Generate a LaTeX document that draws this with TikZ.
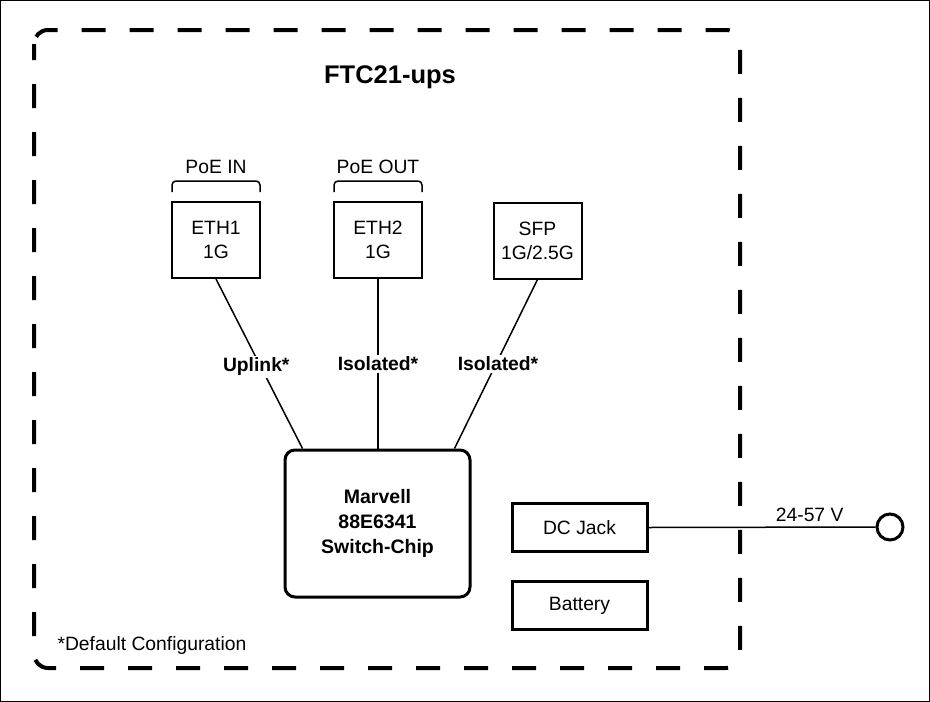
\documentclass[tikz,border=0pt]{standalone}
\usepackage{fontspec}
\setmainfont{Liberation Sans}
\usetikzlibrary{calc}

\begin{document}
\begin{tikzpicture}[x=1pt,y=-1pt,
  txt/.style={font=\fontsize{19.3}{24}\selectfont},
  port/.style={txt, draw, line width=2pt, minimum width=88pt, minimum height=76pt,
    inner sep=0pt, align=center},
  power/.style={txt, draw, line width=3pt, minimum width=135pt, minimum height=48pt,
    inner sep=0pt},
  link/.style={line width=1.5pt},
  lbl/.style={fill=white, inner sep=2pt, font=\fontsize{19.3}{22}\selectfont\bfseries},
  brace/.style={line width=1.5pt, rounded corners=4pt}]
  % Canvas and outer frame
  \useasboundingbox (0,0) rectangle (930,702);
  \draw[line width=1pt] (0.5,0.5) rectangle (929.5,701.5);

  % Device outline (dashed)
  \draw[line width=4pt, rounded corners=14pt, dash pattern=on 24pt off 24pt, dash phase=8pt]
    (34,30) rectangle (740,668);
  \node[font=\fontsize{25.5}{30}\selectfont\bfseries] (title) at (390,77) {FTC21-ups};

  % Ports
  \node[port] (eth1) at (216,240) {ETH1\\1G};
  \node[port] (eth2) at (378,240) {ETH2\\1G};
  \node[port] (sfp) at (537.5,240.5) {SFP\\1G/2.5G};

  % PoE brackets
  \draw[brace] ($(eth1.north west)+(1,-9)$) -- ++(0,-11) -- ($(eth1.north east)+(-1,-20)$) -- ++(0,11);
  \node[txt] (poein) at ($(eth1.north)+(0,-34)$) {PoE IN};
  \draw[brace] ($(eth2.north west)+(1,-9)$) -- ++(0,-11) -- ($(eth2.north east)+(-1,-20)$) -- ++(0,11);
  \node[txt] (poeout) at ($(eth2.north)+(0,-34)$) {PoE OUT};

  % Switch chip
  \node[draw, line width=3pt, rounded corners=10pt, minimum width=185pt, minimum height=147pt,
    align=center, font=\fontsize{19.5}{25}\selectfont\bfseries] (chip) at (377.5,523.5)
    {Marvell\\88E6341\\Switch-Chip};

  % Links from ports to chip
  \draw[link] (eth1.south) -- node[lbl, xshift=-3pt, yshift=-3pt] {Uplink*} ([xshift=-75pt]chip.north);
  \draw[link] (eth2.south) -- node[lbl] {Isolated*} (eth2.south |- chip.north);
  \draw[link] (sfp.south) -- node[lbl, xshift=2pt] {Isolated*} ([xshift=77pt]chip.north);

  % Power
  \node[power] (dcjack) at (579.5,527.5) {DC Jack};
  \node[power] (battery) at (579.5,605.5) {Battery};
  \node[draw, circle, line width=3pt, minimum size=26pt, inner sep=0pt] (vin) at (890,527) {};
  \draw[link] (dcjack.east) -- (vin.west) node[txt, pos=0.71, above=1pt] (volt) {24-57 V};

  % Footnote
  \node[txt, anchor=west] (note) at (54,646) {*Default Configuration};
\end{tikzpicture}
\end{document}
